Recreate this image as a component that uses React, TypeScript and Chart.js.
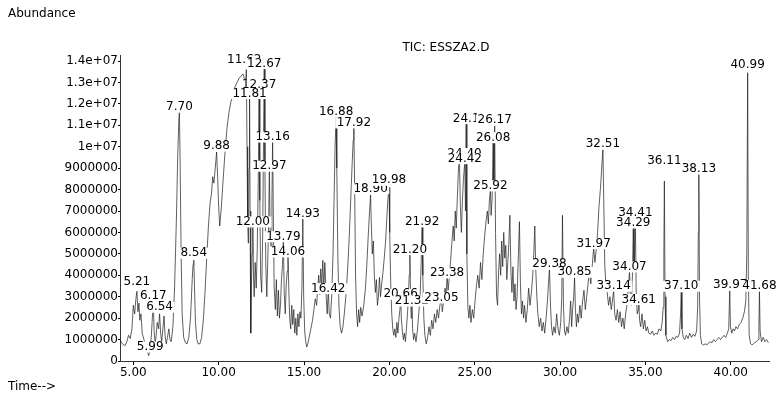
import React, { useEffect, useRef } from "react";
import { Chart, registerables } from "chart.js";

Chart.register(...registerables);

// Total ion chromatogram samples: [retention time (min), abundance (millions)]
const chromatogram: [number, number][] = [
  [4.22, 1.0], [4.32, 0.85], [4.42, 0.75], [4.52, 0.72], [4.62, 0.9], [4.72, 1.2], [4.82, 1.05], [4.92, 1.5],
  [5.0, 2.6], [5.08, 2.2], [5.15, 2.9], [5.21, 3.25], [5.27, 2.3], [5.33, 2.7], [5.38, 1.9], [5.45, 2.2],
  [5.52, 1.3], [5.62, 1.0], [5.72, 0.7], [5.82, 0.45], [5.9, 0.25], [5.99, 0.55], [6.05, 1.1], [6.1, 1.8],
  [6.17, 2.75], [6.22, 1.4], [6.28, 0.8], [6.34, 1.2], [6.4, 1.8], [6.48, 1.5], [6.54, 2.2], [6.6, 1.3],
  [6.66, 0.9], [6.72, 1.4], [6.8, 2.1], [6.86, 1.2], [6.93, 0.8], [7.0, 1.1], [7.08, 1.5], [7.15, 1.0],
  [7.22, 0.9], [7.32, 1.6], [7.42, 3.5], [7.52, 6.5], [7.6, 9.5], [7.67, 11.3], [7.7, 11.6], [7.74, 9.5],
  [7.8, 5.0], [7.86, 2.2], [7.95, 1.1], [8.05, 0.85], [8.15, 0.8], [8.25, 1.1], [8.35, 2.0], [8.45, 3.8],
  [8.5, 4.5], [8.54, 4.7], [8.58, 3.6], [8.64, 1.8], [8.72, 1.0], [8.8, 0.8], [8.9, 0.8],
  [9.0, 1.1], [9.1, 1.9], [9.2, 3.2], [9.3, 4.8], [9.4, 6.3], [9.5, 7.4], [9.58, 7.8], [9.65, 8.6],
  [9.72, 8.3], [9.8, 9.0], [9.88, 9.75], [9.94, 8.6], [10.0, 7.2], [10.06, 6.3], [10.14, 7.0], [10.24, 8.2],
  [10.36, 9.6], [10.48, 10.8], [10.6, 11.6], [10.72, 12.1], [10.84, 12.5], [10.96, 12.8], [11.08, 13.0],
  [11.2, 13.2], [11.32, 13.3], [11.42, 13.4], [11.5, 13.2], [11.56, 12.5], [11.62, 13.6], [11.66, 10.0],
  [11.7, 6.5], [11.74, 5.5], [11.78, 9.0], [11.81, 12.3], [11.84, 7.0], [11.88, 1.3], [11.92, 3.5],
  [11.96, 5.0], [12.0, 6.4], [12.04, 4.0], [12.08, 3.0], [12.14, 4.6], [12.2, 3.4], [12.26, 5.2],
  [12.32, 8.5], [12.37, 12.7], [12.41, 7.5], [12.46, 4.0], [12.52, 3.2], [12.58, 6.0], [12.63, 10.5],
  [12.67, 13.85], [12.71, 9.0], [12.76, 4.5], [12.82, 3.0], [12.88, 4.8], [12.93, 6.5], [12.97, 9.0],
  [13.02, 5.8], [13.08, 5.2], [13.12, 7.5], [13.16, 10.35], [13.2, 7.0], [13.25, 3.5], [13.32, 2.4],
  [13.38, 3.8], [13.44, 2.1], [13.5, 3.3], [13.56, 2.0], [13.62, 2.6], [13.68, 3.8], [13.74, 4.5],
  [13.79, 5.6], [13.84, 3.2], [13.9, 2.2], [13.96, 3.6], [14.02, 4.2], [14.06, 5.0], [14.1, 3.6],
  [14.16, 2.0], [14.22, 1.5], [14.28, 2.6], [14.34, 1.7], [14.4, 2.4], [14.46, 1.3], [14.52, 2.0],
  [14.58, 1.2], [14.64, 2.2], [14.7, 1.6], [14.76, 2.3], [14.82, 2.0], [14.88, 3.5], [14.93, 6.7],
  [14.98, 3.0], [15.04, 1.4], [15.1, 0.9], [15.16, 0.65], [15.22, 0.8], [15.3, 1.1], [15.4, 1.5],
  [15.5, 1.9], [15.58, 2.4], [15.66, 2.9], [15.74, 2.6], [15.8, 3.4], [15.86, 4.0], [15.92, 3.1],
  [15.98, 4.3], [16.04, 3.5], [16.1, 4.7], [16.16, 3.3], [16.22, 4.6], [16.3, 3.0], [16.36, 2.2],
  [16.42, 3.35], [16.48, 2.2], [16.55, 2.0], [16.62, 3.0], [16.7, 5.0], [16.76, 7.5], [16.82, 10.0],
  [16.88, 11.4], [16.92, 9.0], [16.98, 5.0], [17.05, 2.5], [17.12, 1.6], [17.2, 1.3], [17.28, 1.6],
  [17.36, 2.2], [17.45, 3.0], [17.55, 4.2], [17.65, 5.8], [17.74, 7.6], [17.82, 9.2], [17.88, 10.3],
  [17.92, 10.9], [17.96, 8.5], [18.02, 4.0], [18.08, 2.2], [18.14, 1.6], [18.2, 2.4], [18.26, 1.8],
  [18.32, 2.5], [18.4, 2.1], [18.5, 2.6], [18.6, 3.4], [18.68, 4.5], [18.76, 5.8], [18.84, 7.0],
  [18.9, 7.75], [18.94, 6.5], [19.0, 5.0], [19.06, 5.6], [19.12, 4.0], [19.18, 3.2], [19.24, 3.8],
  [19.3, 2.6], [19.36, 3.0], [19.42, 3.9], [19.48, 3.0], [19.55, 3.6], [19.62, 4.1], [19.7, 4.8],
  [19.78, 5.6], [19.86, 6.8], [19.92, 7.6], [19.98, 8.1], [20.02, 6.0], [20.08, 3.6], [20.14, 2.2],
  [20.2, 1.5], [20.26, 1.2], [20.32, 1.5], [20.38, 1.1], [20.44, 1.8], [20.5, 1.3], [20.56, 2.0],
  [20.62, 2.4], [20.66, 3.1], [20.7, 2.0], [20.76, 1.4], [20.82, 1.0], [20.88, 1.3], [20.94, 0.9],
  [21.0, 1.5], [21.06, 2.2], [21.12, 3.0], [21.16, 4.0], [21.2, 5.0], [21.24, 3.2], [21.28, 2.0],
  [21.32, 2.7], [21.36, 1.5], [21.42, 1.0], [21.48, 1.3], [21.56, 0.9], [21.64, 1.4], [21.72, 2.2],
  [21.8, 3.0], [21.86, 4.5], [21.92, 6.3], [21.96, 4.0], [22.02, 2.0], [22.08, 1.2], [22.16, 0.8],
  [22.24, 1.1], [22.32, 1.6], [22.4, 1.2], [22.48, 1.9], [22.56, 1.5], [22.64, 2.2], [22.72, 1.8],
  [22.8, 2.4], [22.88, 2.0], [22.96, 2.6], [23.05, 2.95], [23.1, 2.3], [23.18, 2.8], [23.26, 3.4],
  [23.32, 3.0], [23.38, 4.0], [23.44, 3.3], [23.5, 3.8], [23.58, 4.6], [23.66, 5.5], [23.74, 6.3],
  [23.8, 5.6], [23.86, 7.0], [23.92, 6.2], [23.98, 7.6], [24.04, 8.8], [24.1, 9.6], [24.16, 7.2],
  [24.22, 6.0], [24.28, 7.5], [24.34, 8.5], [24.4, 9.1], [24.42, 9.2], [24.46, 7.0], [24.5, 11.1],
  [24.54, 5.0], [24.6, 2.5], [24.66, 2.0], [24.72, 2.6], [24.78, 1.8], [24.86, 2.4], [24.94, 2.0],
  [25.02, 2.8], [25.1, 3.5], [25.18, 4.0], [25.26, 3.4], [25.34, 4.6], [25.42, 3.8], [25.5, 5.0],
  [25.58, 5.8], [25.66, 6.5], [25.74, 7.0], [25.8, 6.4], [25.86, 7.5], [25.92, 8.0], [25.96, 6.8],
  [26.02, 7.6], [26.08, 10.2], [26.12, 8.0], [26.17, 11.0], [26.22, 6.0], [26.28, 3.0], [26.34, 2.6],
  [26.4, 4.2], [26.46, 5.0], [26.52, 4.0], [26.58, 5.6], [26.64, 4.4], [26.7, 6.0], [26.76, 4.8],
  [26.82, 5.4], [26.88, 3.8], [26.94, 4.6], [27.0, 5.5], [27.06, 6.8], [27.12, 4.2], [27.18, 3.2],
  [27.24, 4.4], [27.3, 2.8], [27.36, 3.6], [27.42, 2.4], [27.48, 3.0], [27.56, 5.0], [27.62, 6.5],
  [27.68, 3.5], [27.74, 2.2], [27.8, 2.8], [27.86, 2.0], [27.92, 2.6], [28.0, 1.8], [28.08, 2.4],
  [28.16, 3.4], [28.24, 2.6], [28.32, 3.2], [28.4, 4.0], [28.46, 5.0], [28.52, 6.3], [28.58, 4.2],
  [28.64, 3.0], [28.7, 2.2], [28.78, 1.6], [28.86, 2.0], [28.94, 1.4], [29.02, 1.8], [29.1, 1.3],
  [29.18, 2.0], [29.26, 2.8], [29.32, 3.6], [29.38, 4.3], [29.44, 2.6], [29.5, 1.6], [29.56, 1.2],
  [29.64, 1.6], [29.72, 1.3], [29.8, 2.2], [29.88, 1.5], [29.96, 1.2], [30.04, 1.8], [30.1, 3.0],
  [30.14, 6.8], [30.2, 2.5], [30.26, 1.4], [30.32, 1.2], [30.4, 1.6], [30.48, 1.3], [30.56, 2.0],
  [30.62, 2.8], [30.68, 1.6], [30.74, 2.5], [30.8, 3.0], [30.85, 3.9], [30.9, 2.4], [30.96, 1.6],
  [31.02, 2.2], [31.08, 1.8], [31.16, 2.6], [31.24, 2.0], [31.32, 2.8], [31.4, 3.3], [31.48, 2.4],
  [31.56, 3.0], [31.64, 3.6], [31.72, 4.2], [31.8, 3.6], [31.88, 4.4], [31.97, 5.3], [32.04, 4.6],
  [32.12, 5.2], [32.2, 6.0], [32.28, 7.2], [32.36, 8.0], [32.44, 9.0], [32.51, 9.9], [32.56, 7.5],
  [32.62, 4.5], [32.68, 3.6], [32.76, 3.2], [32.84, 2.6], [32.92, 3.0], [33.0, 2.4], [33.08, 2.9],
  [33.14, 3.3], [33.2, 2.2], [33.28, 1.9], [33.36, 2.4], [33.44, 1.8], [33.52, 2.3], [33.6, 1.6],
  [33.68, 2.0], [33.76, 1.5], [33.84, 2.2], [33.92, 2.6], [34.0, 3.4], [34.07, 4.2], [34.12, 3.0],
  [34.18, 2.6], [34.24, 4.0], [34.29, 6.2], [34.33, 4.5], [34.37, 5.0], [34.41, 6.7], [34.46, 3.2],
  [34.52, 2.2], [34.58, 2.4], [34.61, 2.8], [34.66, 1.9], [34.72, 1.6], [34.8, 2.2], [34.88, 1.5],
  [34.96, 1.9], [35.04, 1.4], [35.12, 1.6], [35.2, 1.3], [35.3, 1.25], [35.4, 1.4], [35.5, 1.2],
  [35.6, 1.3], [35.7, 1.25], [35.8, 1.5], [35.9, 1.4], [35.98, 1.8], [36.04, 2.5], [36.08, 5.0],
  [36.11, 8.4], [36.15, 3.0], [36.2, 1.2], [36.3, 0.9], [36.4, 1.0], [36.5, 0.95], [36.6, 1.1],
  [36.7, 1.0], [36.8, 1.15], [36.9, 1.1], [37.0, 1.3], [37.06, 2.2], [37.1, 3.2], [37.14, 1.5],
  [37.22, 1.1], [37.3, 1.0], [37.4, 1.2], [37.5, 1.05], [37.6, 1.3], [37.7, 1.1], [37.8, 1.25],
  [37.9, 1.15], [38.0, 1.4], [38.06, 2.5], [38.1, 6.0], [38.13, 8.7], [38.17, 3.0], [38.22, 1.2],
  [38.3, 0.8], [38.4, 0.75], [38.5, 0.8], [38.6, 0.75], [38.7, 0.85], [38.8, 0.9], [38.9, 0.85],
  [39.0, 1.0], [39.1, 0.9], [39.2, 1.0], [39.3, 1.1], [39.4, 1.0], [39.5, 1.1], [39.6, 1.2],
  [39.7, 1.1], [39.8, 1.3], [39.88, 1.5], [39.94, 3.3], [39.98, 1.6], [40.06, 1.3], [40.14, 1.5],
  [40.22, 1.4], [40.3, 1.6], [40.4, 1.5], [40.5, 1.7], [40.6, 1.8], [40.7, 2.0], [40.8, 2.3],
  [40.88, 2.8], [40.94, 5.0], [40.99, 13.45], [41.03, 4.0], [41.08, 1.2], [41.16, 0.8], [41.24, 0.75],
  [41.32, 0.8], [41.4, 0.85], [41.5, 0.9], [41.6, 1.0], [41.65, 1.6], [41.68, 3.3], [41.72, 1.4],
  [41.8, 0.9], [41.9, 1.1], [42.0, 0.9], [42.1, 1.0], [42.2, 0.85],
];

// Peak annotations, in drawing order (later ones cover earlier ones)
const peakLabelTexts = [
  "5.21", "5.99", "6.17", "6.54", "7.70", "8.54", "9.88", "11.62", "12.67", "12.37", "11.81",
  "12.00", "12.97", "13.16", "13.79", "14.06", "14.93", "16.42", "16.88", "17.92", "18.90", "19.98",
  "20.66", "21.32", "23.05", "21.20", "21.92", "23.38", "24.40", "24.42", "24.1", "26.17", "26.08",
  "25.92", "29.38", "30.85", "31.97", "32.51", "33.14", "34.07", "34.41", "34.29", "34.61", "36.11",
  "38.13", "37.10", "39.97", "41.68", "40.99",
];
const peakLabelTimes = [
  5.21, 5.99, 6.17, 6.54, 7.7, 8.54, 9.88, 11.5, 12.67, 12.37, 11.81,
  12.0, 12.97, 13.16, 13.79, 14.06, 14.93, 16.42, 16.88, 17.92, 18.9, 19.98,
  20.66, 21.32, 23.05, 21.2, 21.92, 23.38, 24.4, 24.42, 24.5, 26.17, 26.08,
  25.92, 29.38, 30.85, 31.97, 32.51, 33.14, 34.07, 34.41, 34.29, 34.61, 36.11,
  38.13, 37.1, 39.97, 41.68, 40.99,
];
const peakLabelLevels = [
  3.69, 0.65, 3.02, 2.51, 11.85, 5.03, 10.03, 14.03, 13.88, 12.87, 12.48,
  6.49, 9.09, 10.45, 5.8, 5.09, 6.88, 3.38, 11.62, 11.11, 8.04, 8.43,
  3.11, 2.8, 2.94, 5.2, 6.49, 4.11, 9.68, 9.44, 11.31, 11.23, 10.42,
  8.17, 4.51, 4.14, 5.48, 10.11, 3.49, 4.39, 6.91, 6.44, 2.87, 9.32,
  8.98, 3.49, 3.53, 3.49, 13.8,
];

const xTickValues = [5, 10, 15, 20, 25, 30, 35, 40];
const xTickLabels = ["5.00", "10.00", "15.00", "20.00", "25.00", "30.00", "35.00", "40.00"];
const yTickValues = [
  0, 1000000, 2000000, 3000000, 4000000, 5000000, 6000000, 7000000,
  8000000, 9000000, 10000000, 11000000, 12000000, 13000000, 14000000,
];
const yTickLabels = [
  "0", "1000000", "2000000", "3000000", "4000000", "5000000", "6000000", "7000000",
  "8000000", "9000000", "1e+07", "1.1e+07", "1.2e+07", "1.3e+07", "1.4e+07",
];

const yAxisName = "Abundance";
const xAxisName = "Time-->";
const traceName = "TIC: ESSZA2.D";

const FONT = "'DejaVu Sans', 'Liberation Sans', sans-serif";

const annotations = {
  id: "annotations",
  afterDatasetsDraw(chart: any) {
    const ctx = chart.ctx as CanvasRenderingContext2D;
    const xs = chart.scales.x;
    const ys = chart.scales.y;
    ctx.save();
    ctx.font = `12px ${FONT}`;
    ctx.textAlign = "center";
    ctx.textBaseline = "middle";
    peakLabelTexts.forEach((txt, i) => {
      const x = xs.getPixelForValue(peakLabelTimes[i]);
      const y = ys.getPixelForValue(peakLabelLevels[i] * 1e6);
      const w = ctx.measureText(txt).width;
      ctx.fillStyle = "#ffffff";
      ctx.fillRect(x - w / 2 - 1.5, y - 5.5, w + 3, 11);
      ctx.fillStyle = "#000000";
      ctx.fillText(txt, x, y);
    });
    ctx.textAlign = "left";
    ctx.fillText(yAxisName, 8, 14);
    ctx.fillText(xAxisName, 8, 387);
    ctx.textAlign = "center";
    ctx.fillText(traceName, 446, 48);
    ctx.restore();
  },
};

export default function App() {
  const canvasRef = useRef<HTMLCanvasElement | null>(null);

  useEffect(() => {
    document.body.style.margin = "0";
    const canvas = canvasRef.current;
    if (!canvas) return;
    const chart = new Chart(canvas, {
      type: "line",
      data: {
        datasets: [
          {
            label: traceName,
            data: chromatogram.map(([t, v]) => ({ x: t, y: v * 1e6 })),
            borderColor: "rgba(30,30,30,0.7)",
            borderWidth: 1,
            pointRadius: 0,
            tension: 0,
            fill: false,
          },
        ],
      },
      options: {
        animation: false,
        responsive: false,
        devicePixelRatio: 1,
        parsing: false as any,
        layout: { padding: { top: 55, right: 13, left: 0, bottom: 0 } },
        plugins: {
          legend: { display: false },
          tooltip: { enabled: false },
          title: { display: false },
        },
        scales: {
          x: {
            type: "linear",
            min: 4.22,
            max: 42.24,
            afterFit: (s: any) => {
              s.height = 33;
            },
            afterBuildTicks: (s: any) => {
              s.ticks = xTickValues.map((v) => ({ value: v }));
            },
            ticks: {
              autoSkip: false,
              maxRotation: 0,
              padding: 1,
              color: "#000",
              font: { family: FONT, size: 12 },
              callback: (v: any) => {
                const i = xTickValues.indexOf(Number(v));
                return i >= 0 ? xTickLabels[i] : "";
              },
            },
            grid: { display: true, drawOnChartArea: false, drawTicks: true, tickLength: 4, color: "#000" },
            border: { display: true, color: "#333", width: 1 },
          },
          y: {
            type: "linear",
            min: 0,
            max: 14280000,
            afterFit: (s: any) => {
              s.width = 120;
            },
            afterBuildTicks: (s: any) => {
              s.ticks = yTickValues.map((v) => ({ value: v }));
            },
            ticks: {
              autoSkip: false,
              padding: 0,
              color: "#000",
              font: { family: FONT, size: 12 },
              callback: (v: any) => {
                const i = yTickValues.indexOf(Number(v));
                return i >= 0 ? yTickLabels[i] : "";
              },
            },
            grid: { display: true, drawOnChartArea: false, drawTicks: true, tickLength: 2, color: "#000" },
            border: { display: true, color: "#333", width: 1 },
          },
        },
      },
      plugins: [annotations],
    });
    return () => chart.destroy();
  }, []);

  return (
    <div style={{ width: 782, height: 394 }}>
      <canvas ref={canvasRef} width={782} height={394} style={{ display: "block", width: 782, height: 394 }} />
    </div>
  );
}
